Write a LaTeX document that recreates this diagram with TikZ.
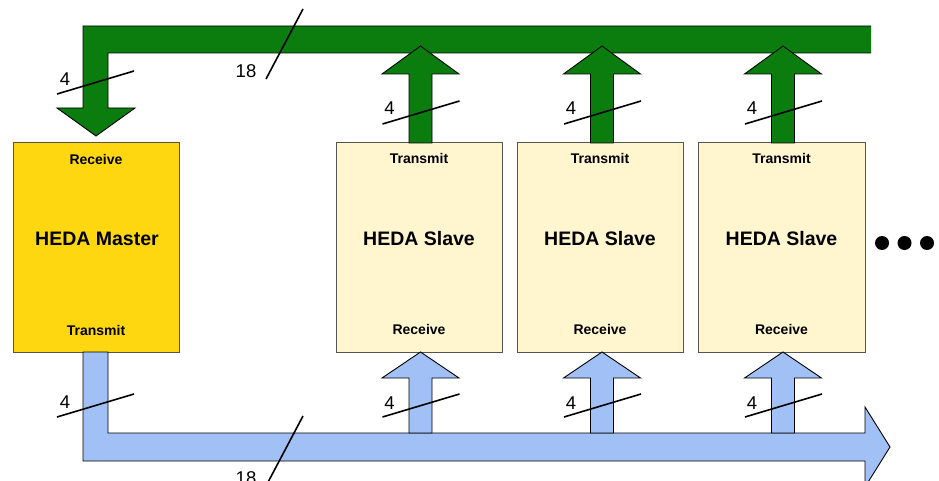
\documentclass[tikz,border=0pt]{standalone}
\usepackage{fontspec}
\setmainfont{Liberation Sans}
\definecolor{busgreen}{HTML}{0B7D0F}
\definecolor{masteryellow}{HTML}{FFD711}
\definecolor{slavecream}{HTML}{FFF5CF}
\definecolor{busblue}{HTML}{A0C0F6}
\definecolor{boxline}{HTML}{55554F}
\begin{document}
\begin{tikzpicture}[x=1pt,y=-1pt,
  unitbox/.style={draw=boxline, line width=0.9pt, minimum width=166pt, minimum height=210pt, inner sep=0pt},
  portlabel/.style={font=\bfseries\fontsize{14}{14}\selectfont, inner sep=0pt},
  unitlabel/.style={font=\bfseries\fontsize{19.5}{19.5}\selectfont, inner sep=0pt},
  widthlabel/.style={font=\fontsize{18.5}{18.5}\selectfont, inner sep=0pt},
  tickline/.style={line width=1.6pt, black},
  busline/.style={line width=0.9pt, black}]
\clip (0,0) rectangle (939,481);
\useasboundingbox (0,0) rectangle (939,481);

% boxes
\node[unitbox, fill=masteryellow] (master) at (96,247) {};
\node[unitbox, fill=slavecream] (slaveA) at (419,247) {};
\node[unitbox, fill=slavecream] (slaveB) at (600,247) {};
\node[unitbox, fill=slavecream, minimum width=167pt] (slaveC) at (781.5,247) {};

\node[portlabel] (mrx) at (96,159) {Receive};
\node[unitlabel] (mname) at (97,239) {HEDA Master};
\node[portlabel] (mtx) at (96,330) {Transmit};
\foreach \c/\n in {419/A,600/B,781.5/C}{
  \node[portlabel] (tx\n) at (\c,158) {Transmit};
  \node[unitlabel] (name\n) at (\c,239) {HEDA Slave};
  \node[portlabel] (rx\n) at (\c,329) {Receive};
}

% green bus
\fill[busgreen] (83,26) -- (871,26) -- (871,53) -- (108,53) -- (108,108) -- (135,108) -- (96,136) -- (57,108) -- (83,108) -- cycle;
\draw[busline] (871,53) -- (108,53) -- (108,108) -- (135,108) -- (96,136) -- (57,108) -- (83,108) -- (83,26) -- (871,26);
\foreach \t in {420.5,602,783}{
  \filldraw[busline, fill=busgreen] ({\t-11.5},143) -- ({\t-11.5},74) -- ({\t-38.5},74) -- (\t,46) -- ({\t+38.5},74) -- ({\t+11.5},74) -- ({\t+11.5},143) -- cycle;
}

% blue bus
\filldraw[busline, fill=busblue] (83,352) -- (108,352) -- (108,433) -- (865,433) -- (865,407) -- (890,447) -- (865,487) -- (865,461) -- (83,461) -- cycle;
\foreach \t in {420.5,602,783}{
  \filldraw[busline, fill=busblue] ({\t-11.5},433) -- ({\t-11.5},378) -- ({\t-38.5},378) -- (\t,352) -- ({\t+38.5},378) -- ({\t+11.5},378) -- ({\t+11.5},433) -- cycle;
}

% width ticks and labels
\draw[tickline] (57,94) -- (134,71);
\node[widthlabel] (wmrx) at (65,79) {4};
\draw[tickline] (57,417) -- (134,394);
\node[widthlabel] (wmtx) at (65,402) {4};
\draw[tickline] (303,9) -- (266,79);
\node[widthlabel] (wtop) at (246,71) {18};
\draw[tickline] (303,416) -- (266,486);
\node[widthlabel] (wbot) at (246,478) {18};
\foreach \t/\n in {420.5/A,602/B,783/C}{
  \draw[tickline] ({\t-38},124) -- ({\t+39},101);
  \node[widthlabel] (wtx\n) at ({\t-31},108) {4};
  \draw[tickline] ({\t-38},417) -- ({\t+39},394);
  \node[widthlabel] (wrx\n) at ({\t-31},403) {4};
}

% continuation dots
\foreach \x/\n in {882/1,904.5/2,927/3}{
  \fill[black] (\x,243) circle[radius=7pt];
  \coordinate (dot\n) at (\x,243);
}
\end{tikzpicture}
\end{document}
